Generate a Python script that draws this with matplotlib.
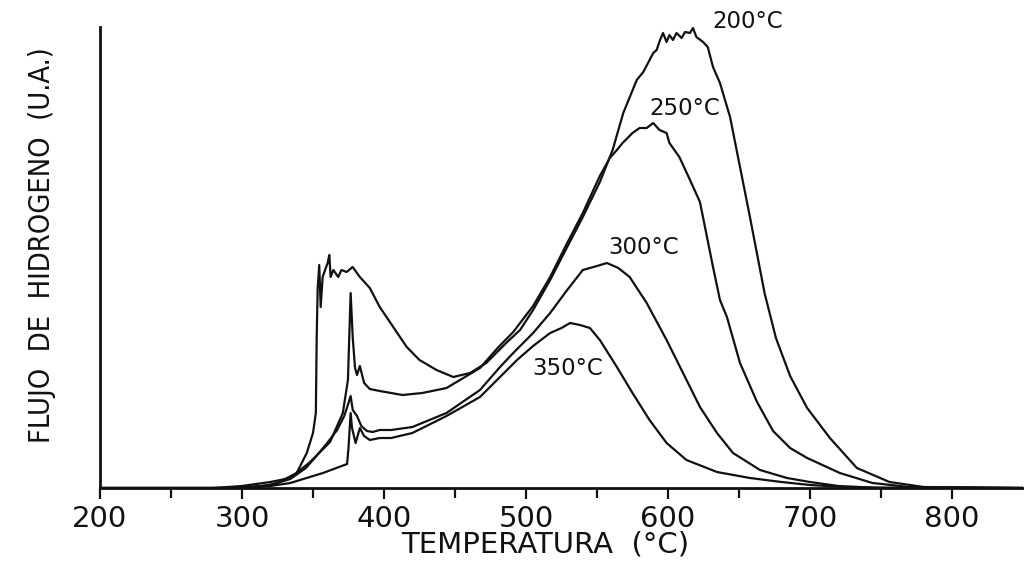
import matplotlib
matplotlib.use('Agg')
from matplotlib import pyplot as plt
from matplotlib import font_manager

# hydrogen flow curves (arbitrary units)
t200 = [200, 280, 300, 312, 325, 338.5, 345.6, 350, 352, 352.6, 353.3, 354.4, 355.4, 356.8, 358.5,
        360.3, 361.5, 362.4, 364.3, 367.8, 370, 373.7, 377.9, 383, 390, 397, 406.5, 416, 425, 437,
        448.8, 460.6, 472, 486, 495.8, 505, 517, 529, 540, 552, 561, 568.5, 578, 582.6, 589.6,
        592, 594.4, 596.5, 599, 601, 603.5, 606, 609.6, 612, 615.5, 617.6, 620, 624.7, 628, 631.7,
        636.6, 643.7, 650.7, 657.7, 668, 676, 686, 698, 714, 733, 756, 780, 850]
h200 = [0, 0, 0.5, 1, 5, 15, 35, 55, 75, 150, 200, 223, 181, 211, 218,
        225, 233, 211, 218, 211, 218, 216, 221, 211, 200, 181, 161, 141, 128, 118,
        111, 115, 125, 145, 158, 178, 208, 241, 271, 306, 338, 375, 408, 416, 435,
        438, 448, 455, 446, 453, 448, 455, 450, 456, 455, 460, 451, 446, 441, 421,
        405, 371, 321, 271, 195, 150, 112, 80, 50, 20, 6, 1, 0]

t250 = [200, 280, 300, 320, 334, 348, 362, 371, 374.6, 376.5, 378, 379.6, 381, 383, 386,
        390, 397, 413, 427, 444, 453.5, 467.6, 480, 491, 505, 517, 529, 540, 552, 559,
        564, 568, 575, 580, 585, 589.6, 594, 599, 601, 608, 615.5, 622.5, 631.7, 636.6, 641.5,
        650.7, 662.7, 674, 686, 698, 721, 744, 770, 850]
h250 = [0, 0, 2, 6, 10, 26, 46, 75, 108, 195, 150, 120, 113, 122, 105,
        99, 97, 93, 95, 100, 108, 120, 140, 156, 182, 211, 245, 275, 312, 330,
        338, 345, 355, 360, 360, 365, 358, 355, 345, 331, 308, 286, 221, 188, 171,
        125, 86, 57, 40, 30, 15, 5, 1, 0]

t300 = [200, 290, 300, 320, 334, 345, 353, 360, 367, 372, 375, 376.5, 378, 381, 384,
        388, 392, 397, 405, 420, 444, 467.6, 481.7, 491, 505, 517, 529, 540, 550, 557,
        565, 573, 585, 599, 610.6, 622.5, 634.5, 645.8, 664.8, 683.8, 700, 720, 750, 850]
h300 = [0, 0, 0.5, 3, 9, 20, 33, 45, 58, 72, 85, 92, 78, 72, 62,
        57, 56, 58, 58, 61, 75, 98, 121, 135, 155, 175, 198, 218, 222, 225,
        220, 211, 185, 148, 115, 81, 55, 35, 18, 10, 6, 2, 0, 0]

t350 = [200, 290, 300, 320, 334, 357, 374, 375, 376.5, 377.5, 380, 383, 386, 390, 397,
        405, 420, 444, 467.6, 481.7, 493.7, 505, 517, 525, 531, 538, 545, 552, 564, 575,
        587, 599, 613, 634.5, 657.7, 680, 700, 730, 850]
h350 = [0, 0, 0.5, 2, 5, 15, 24, 40, 75, 60, 45, 60, 52, 48, 50,
        50, 55, 72, 91, 111, 128, 142, 155, 160, 165, 163, 160, 148, 121, 95,
        68, 45, 28, 16, 10, 6, 3, 0.5, 0]

labels = ['200°C', '250°C', '300°C', '350°C']
label_pos = [(656.3, 466), (611.5, 379.5), (582.7, 240.5), (529.4, 119.5)]

xticks = [200, 300, 400, 500, 600, 700, 800]
xminor = [250, 350, 450, 550, 650, 750]

# a narrow face for the y label if one is installed
cond = [f.fname for f in font_manager.fontManager.ttflist
        if f.name == 'DejaVu Sans' and f.stretch == 'condensed' and f.weight in (400, 'normal')
        and f.style == 'normal']
if cond:
    yfont = font_manager.FontProperties(fname=cond[0], size=20.8)
    ytext = 'FLUJO  DE  HIDROGENO  (U.A.)'
else:
    yfont = font_manager.FontProperties(family='DejaVu Sans', size=20)
    ytext = 'FLUJO DE HIDROGENO (U.A.)'

fig = plt.figure(figsize=(10.24, 5.64), dpi=100)
ax = fig.add_axes([100 / 1024, 76 / 564, 923 / 1024, 461 / 564])

ink = '#111111'
for t, h in [(t200, h200), (t250, h250), (t300, h300), (t350, h350)]:
    ax.plot(t, h, color=ink, lw=1.6, solid_joinstyle='round')

for lab, (x, y) in zip(labels, label_pos):
    ax.text(x, y, lab, fontsize=16.5, ha='center', va='center', color=ink, clip_on=False)

ax.set_xlim(200, 850)
ax.set_ylim(0, 461)
ax.set_xticks(xticks)
ax.set_xticks(xminor, minor=True)
ax.set_yticks([])
ax.tick_params(axis='x', which='both', direction='out', width=1.6, colors=ink)
ax.tick_params(axis='x', which='major', length=8, pad=4, labelsize=21)
ax.tick_params(axis='x', which='minor', length=7)
for s in ['top', 'right']:
    ax.spines[s].set_visible(False)
for s in ['left', 'bottom']:
    ax.spines[s].set_linewidth(2)
    ax.spines[s].set_color(ink)

fig.text(545 / 1024, 1 - 545 / 564, 'TEMPERATURA  (°C)', fontsize=21, ha='center', va='center', color=ink)
fig.text(42 / 1024, 1 - 245 / 564, ytext, fontproperties=yfont,
         rotation=90, ha='center', va='center', color=ink)

fig.savefig('out.png', dpi=100, facecolor='white')
